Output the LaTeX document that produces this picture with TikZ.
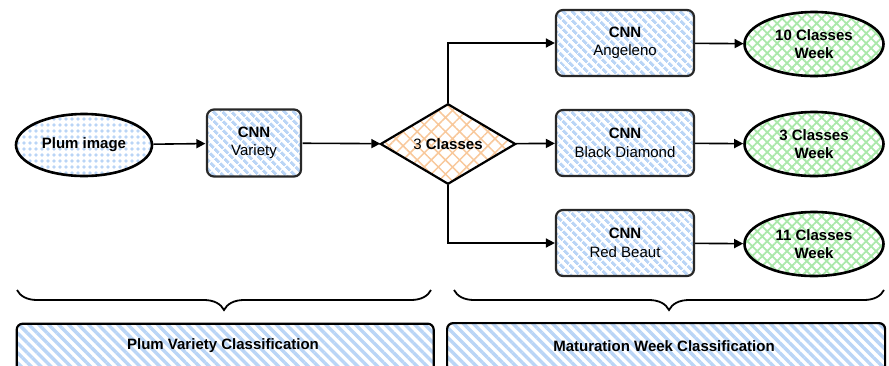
\documentclass[tikz,border=0pt]{standalone}
\usepackage{fontspec}
\setmainfont{Liberation Sans}
\usetikzlibrary{shapes.geometric,patterns.meta,decorations.pathreplacing,arrows.meta}
\definecolor{hblue}{RGB}{186,213,246}
\definecolor{horange}{RGB}{248,200,155}
\definecolor{hgreen}{RGB}{170,232,170}
\definecolor{edge}{RGB}{40,40,40}
\tikzset{
  lbl/.style={font=\fontsize{15}{18.5}\selectfont},
  blbl/.style={font=\bfseries\fontsize{15}{18.5}\selectfont},
  cnnbox/.style={rectangle, rounded corners=7pt, draw=edge, line width=2.2pt,
    minimum width=138pt, minimum height=66pt, align=center, lbl,
    pattern={Lines[angle=-45,distance=6.5pt,line width=3.2pt]}, pattern color=hblue},
  weekell/.style={ellipse, draw=black, line width=2.6pt, minimum width=139pt, minimum height=64pt,
    align=center, blbl,
    pattern={Hatch[angle=45,distance=7pt,line width=1.8pt]}, pattern color=hgreen},
  band/.style={rectangle, rounded corners=6pt, draw=black, line width=2.2pt,
    pattern={Lines[angle=-45,distance=7pt,line width=3.4pt]}, pattern color=hblue},
  flow/.style={-{Triangle[length=9pt,width=9pt]}, line width=1.6pt},
  curly/.style={decorate, decoration={brace, mirror, amplitude=20pt}, line width=1.8pt, draw=black},
}
\begin{document}
\begin{tikzpicture}[x=1pt,y=-1pt]
\useasboundingbox (0,0) rectangle (889,365);
\clip (0,0) rectangle (889,365);

% input image
\node[ellipse, draw=black, line width=2.6pt, minimum width=136pt, minimum height=62pt,
  pattern={Dots[radius=1.8pt,distance=6pt]}, pattern color=hblue,
  blbl] (plum) at (84,145) {Plum image};

% variety classifier
\node[cnnbox, minimum width=94pt, minimum height=67pt] (variety) at (254,143) {\textbf{CNN}\\Variety};

% decision on variety
\node[diamond, draw=black, line width=2.2pt, minimum width=135pt, minimum height=67pt, inner sep=0pt,
  pattern={Hatch[angle=45,distance=10pt,line width=1.5pt]}, pattern color=horange,
  lbl] (dec) at (448,144) {3 \textbf{Classes}};

% per-variety maturation classifiers
\node[cnnbox] (ang) at (625,43) {\textbf{CNN}\\Angeleno};
\node[cnnbox] (bd) at (625,143) {\textbf{CNN}\\Black Diamond};
\node[cnnbox] (rb) at (625,243) {\textbf{CNN}\\Red Beaut};

% outputs
\node[weekell] (w10) at (814,44) {10 Classes\\Week};
\node[weekell] (w3) at (814,144) {3 Classes\\Week};
\node[weekell] (w11) at (814,244) {11 Classes\\Week};

% connectors
\draw[flow] (plum) -- (variety);
\draw[flow] (variety) -- (dec);
\draw[flow] (dec.north) |- (ang.west);
\draw[flow] (dec) -- (bd);
\draw[flow] (dec.south) |- (rb.west);
\draw[flow] (ang) -- (w10);
\draw[flow] (bd) -- (w3);
\draw[flow] (rb) -- (w11);

% stage braces
\coordinate (b1a) at (17,290);
\coordinate (b1b) at (431,290);
\coordinate (b2a) at (454,290);
\coordinate (b2b) at (884,290);
\draw[curly] (b1a) -- (b1b);
\draw[curly] (b2a) -- (b2b);

% stage labels
\node[band, minimum width=417pt, minimum height=60pt, anchor=north west] (s1) at (15,322) {};
\node[band, minimum width=438pt, minimum height=60pt, anchor=north west] (s2) at (446,322) {};
\node[blbl] (t1) at (223,346) {Plum Variety Classification};
\node[blbl] (t2) at (664,346) {Maturation Week Classification};
\end{tikzpicture}
\end{document}
